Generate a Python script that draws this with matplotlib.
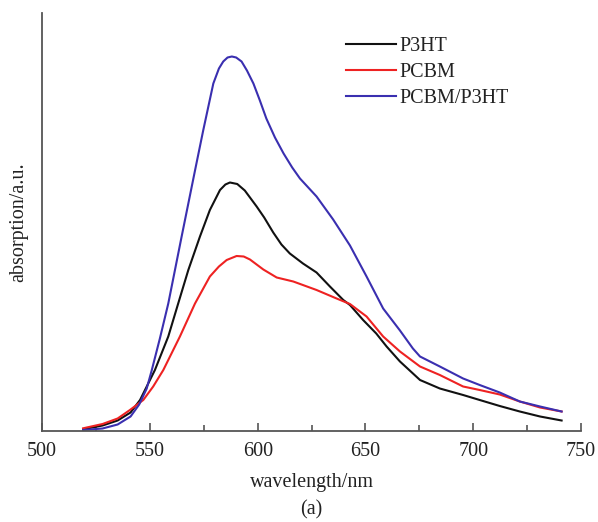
import matplotlib
matplotlib.use("Agg")
import matplotlib.pyplot as plt
from matplotlib.ticker import MultipleLocator

# wavelength (nm) / absorption (a.u.)
wl_p3ht = [519, 528, 535, 541, 545.4, 552.3, 558.5, 563.1, 567.8, 573.2, 577.8, 582.5, 585,
           587.1, 590.5, 594, 599.5, 603, 607.2, 611, 614.9, 621, 627.3, 633.5, 639.7, 642.8,
           648.9, 655, 659.8, 666, 675.3, 684.5, 695.3, 703, 712.3, 721.6, 731, 741]
ab_p3ht = [1.2, 5, 10, 18, 30.5, 60.5, 94, 127, 160.5, 194, 220.5, 240.5, 246,
           248, 246.5, 240, 224, 213, 198, 186, 177, 167, 158, 144, 130.5, 125.5,
           110.5, 97, 84, 69, 50.5, 42, 35.5, 30.5, 24.5, 19, 14, 10]

wl_pcbm = [519, 528, 535, 540.7, 546.9, 551.5, 556.2, 563.9, 570.9, 577.8, 582, 585.6,
           590.2, 593.5, 596.4, 599.5, 602.6, 608.8, 616.5, 627.3, 636.6, 642.8, 650.5,
           658.2, 666, 675.3, 684.5, 695.3, 703, 712.3, 721.6, 731, 741]
ab_pcbm = [2.2, 6.5, 12, 20.5, 30.5, 44, 60.5, 94, 127, 154, 164, 170.5,
           174.5, 174, 171, 166, 161, 153, 149, 140.5, 132, 126.5, 114,
           94, 79, 64, 55.5, 44, 40.5, 36, 29, 23, 19]

wl_blend = [519, 528, 535, 541, 545, 548.5, 550.8, 554.6, 558.5, 564.7, 570.9, 574.7,
            579.4, 582, 584, 586, 588, 590, 592.5, 595, 598, 601, 604, 608, 612, 616,
            619.6, 627.3, 635, 642.8, 650.5, 658.2, 666, 672, 675.3, 684.5, 695.3, 703,
            712.3, 721.6, 731, 741]
ab_blend = [0.5, 2, 6, 14, 26, 42, 60, 92, 127, 194, 260, 300,
            347, 362, 369, 373, 374, 373, 369, 360, 347, 330, 312, 293, 277, 263,
            252, 234, 211, 185, 154, 122, 100, 82, 74, 64, 52, 45.5,
            38, 29, 24, 19]

plt.rcParams['font.family'] = ['Liberation Serif', 'DejaVu Serif']

fig = plt.figure(figsize=(5.98, 5.22), dpi=100)
ax = fig.add_axes([42.2 / 598, 1 - 430.5 / 522, (581 - 42.2) / 598, (430.5 - 13) / 522])

lw = 1.5
ax.plot(wl_p3ht, ab_p3ht, color='#111111', lw=lw, label='P3HT')
ax.plot(wl_pcbm, ab_pcbm, color='#ee2222', lw=lw, label='PCBM')
ax.plot(wl_blend, ab_blend, color='#3a2fb0', lw=lw, label='PCBM/P3HT')

ax.set_xlim(500, 750)
ax.set_ylim(0, 417.5)

for s in ['top', 'right']:
    ax.spines[s].set_visible(False)
for s in ['left', 'bottom']:
    ax.spines[s].set_color('#555555')
    ax.spines[s].set_linewidth(1.3)

ax.xaxis.set_major_locator(MultipleLocator(50))
ax.xaxis.set_minor_locator(MultipleLocator(25))
ax.tick_params(axis='x', which='major', direction='in', length=6, width=1.2, color='#555555',
               labelsize=14.5, pad=8, labelcolor='#222222')
ax.tick_params(axis='x', which='minor', direction='in', length=4, width=1.2, color='#555555')
ax.tick_params(axis='y', left=False, labelleft=False)

ax.set_xlabel('wavelength/nm', fontsize=14.5, labelpad=9, color='#222222')
ax.set_ylabel('absorption/a.u.', fontsize=14.5, labelpad=10, color='#222222')

fig.text((42.2 + 581) / 2 / 598, 1 - 510 / 522, '(a)', fontsize=14.5, ha='center',
         va='center', color='#222222')

leg = ax.legend(loc='upper left', bbox_to_anchor=(346 / 598, 1 - 37 / 522),
                bbox_transform=fig.transFigure, frameon=False, fontsize=14.5,
                handlelength=2.5, handletextpad=0.15, labelspacing=0.35, borderpad=0,
                borderaxespad=0)
for line in leg.get_lines():
    line.set_linewidth(1.5)
for t in leg.get_texts():
    t.set_color('#222222')

fig.savefig('out.png', dpi=100)
